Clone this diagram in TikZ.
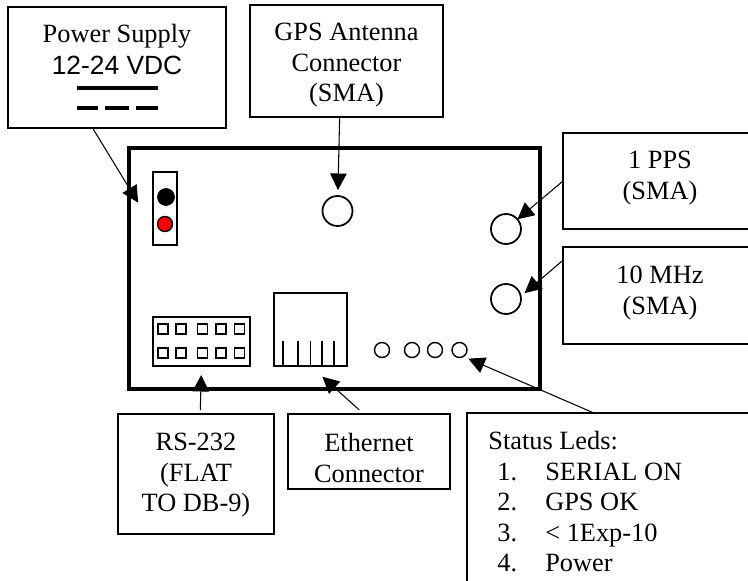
\documentclass[tikz,border=0pt]{standalone}
\usepackage{fontspec}
\usepackage{tikz}
\usetikzlibrary{arrows.meta}
\setmainfont{Liberation Serif}
\newfontfamily\psufont{Liberation Sans}
\newcommand{\ledline}[2]{\hspace*{0.18cm}\makebox[0.96cm][l]{#1}#2}
\tikzset{
  lbl/.style={font=\fontsize{15}{17.4}\selectfont,align=center,inner sep=0pt,anchor=north},
  sbox/.style={draw=black,line width=1pt,inner sep=0pt,outer sep=0pt},
  port/.style={draw=black,circle,line width=1pt,inner sep=0pt,outer sep=0pt,minimum size=0.6cm},
  led/.style={draw=black,circle,line width=0.8pt,inner sep=0pt,outer sep=0pt,minimum size=0.3cm},
  pinbox/.style={draw=black,line width=0.8pt,inner sep=0pt,outer sep=0pt,minimum size=0.2cm},
  pointer/.style={black,line width=0.6pt,-{Triangle[length=0.33cm,width=0.33cm]}}
}
\begin{document}
\begin{tikzpicture}[x=0.02cm,y=-0.02cm]
\useasboundingbox (0,0) rectangle (748,581);
\clip (0,0) rectangle (748,581);

\node[sbox,line width=1.8pt,minimum width=8.22cm,minimum height=4.82cm] (board) at (334.5,268.5) {};

\node[sbox,minimum width=4.36cm,minimum height=2.42cm] (psubox) at (117,67.5) {};
\node[lbl] (psutext) at (117,24) {Power Supply\\[0.03cm]{\psufont 12-24 VDC}};
\draw[black,line width=2.8pt] (77,88) -- (158,88);
\draw[black,line width=2.2pt] (77,108) -- (98,108);
\draw[black,line width=2.2pt] (105,108) -- (129,108);
\draw[black,line width=2.2pt] (136,108) -- (158,108);

\node[sbox,minimum width=3.86cm,minimum height=2.24cm] (gpsbox) at (346.5,61) {};
\node[lbl] (gpstext) at (346.5,23) {GPS Antenna\\Connector\\(SMA)};

\node[sbox,minimum width=3.88cm,minimum height=1.92cm] (ppsbox) at (660,181) {};
\node[lbl] (ppstext) at (660,151) {1 PPS\\(SMA)};

\node[sbox,minimum width=3.88cm,minimum height=1.94cm] (tenbox) at (660,295.5) {};
\node[lbl] (tentext) at (660,266) {10 MHz\\(SMA)};

\node[sbox,minimum width=3.12cm,minimum height=2.4cm] (rsbox) at (196,474) {};
\node[lbl] (rstext) at (196,433) {RS-232\\(FLAT\\TO DB-9)};

\node[sbox,minimum width=3.24cm,minimum height=1.5cm] (ethbox) at (369,451.5) {};
\node[lbl] (ethtext) at (369,433) {Ethernet\\Connector};

\node[sbox,minimum width=6.06cm,minimum height=3.94cm] (statusbox) at (618.5,511.5) {};
\node[lbl,align=left,anchor=north west] (statustext) at (488,431) {Status Leds:\\\ledline{1.}{SERIAL ON}\\\ledline{2.}{GPS OK}\\\ledline{3.}{< 1Exp-10}\\\ledline{4.}{Power}};

\node[sbox,minimum width=0.48cm,minimum height=1.46cm] (jackbox) at (165,208.5) {};
\node[draw=black,fill=black,circle,inner sep=0pt,minimum size=0.34cm] (jackblack) at (166,197) {};
\node[draw=black,fill=red,circle,line width=0.8pt,inner sep=0pt,minimum size=0.3cm] (jackred) at (165,224) {};

\node[port] (gpsport) at (337.5,211) {};
\node[port] (ppsport) at (506,229) {};
\node[port] (tenport) at (506,299) {};

\node[sbox,minimum width=1.94cm,minimum height=0.98cm] (flatconn) at (201.5,341.5) {};
\foreach \x [count=\i] in {163,181,202.5,221,239.5} {
  \node[pinbox] (pina\i) at (\x,329) {};
  \node[pinbox] (pinb\i) at (\x,353) {};
}

\node[sbox,minimum width=1.46cm,minimum height=1.46cm] (rjjack) at (310.5,329.5) {};
\foreach \x in {283,298,310.5,322,334}
  \draw[black,line width=0.8pt] (\x,341) -- (\x,366);

\foreach \i/\x in {1/382,2/412,3/435,4/459.5}
  \node[led] (led\i) at (\x,350) {};

\draw[pointer,shorten >=0.57cm] (psubox.248) -- (jackbox.237);
\draw[pointer,shorten >=0.12cm] (gpsbox.263.4) -- (gpsport);
\draw[pointer] (ppsbox.west) -- (ppsport);
\draw[pointer,shorten >=0.1cm] (tenbox.160) -- (tenport.10);
\draw[pointer,shorten <=0.08cm,shorten >=0.18cm] (rsbox.86.2) -- (flatconn.south);
\draw[pointer,shorten <=0.12cm,shorten >=0.32cm] (ethbox.98) -- (rjjack.south);
\draw[pointer,shorten >=0.11cm] (statusbox.104) -- (led4.-60);
\end{tikzpicture}
\end{document}
